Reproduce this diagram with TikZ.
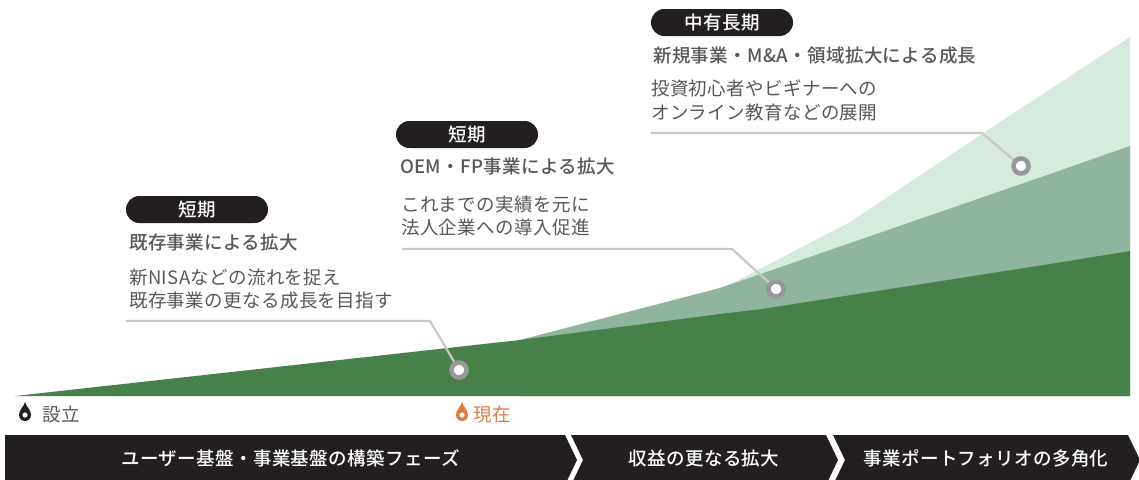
\documentclass[tikz,border=0pt]{standalone}
\usepackage{fontspec}
\newfontfamily\jp[LetterSpace=2]{Noto Sans CJK JP}
\newfontfamily\jpm[LetterSpace=2,UprightFont=* Medium]{Noto Sans CJK JP}
\definecolor{gdark}{HTML}{468148}
\definecolor{gmid}{HTML}{90B59F}
\definecolor{glight}{HTML}{D6EBDD}
\definecolor{leader}{HTML}{C8C8CA}
\definecolor{ring}{HTML}{98989C}
\definecolor{inkdark}{HTML}{231F20}
\definecolor{bodytext}{HTML}{595757}
\definecolor{nowcol}{HTML}{E27C3E}
\tikzset{
  x=1pt,y=-1pt,
  bodyline/.style={anchor=base west,inner sep=0pt,text=bodytext,font=\jp\fontsize{18.5}{20}\selectfont},
  headline/.style={anchor=base west,inner sep=0pt,text=bodytext,font=\jpm\fontsize{18.5}{20}\selectfont},
  pilltext/.style={inner sep=0pt,text=white,font=\jpm\fontsize{18.5}{20}\selectfont},
  bandtext/.style={inner sep=0pt,text=white,font=\jpm\fontsize{18.5}{20}\selectfont},
  leaderline/.style={draw=leader,line width=2.2pt,line join=miter},
  pin/.style={circle,draw=ring,fill=white,line width=4.6pt,minimum size=15pt,inner sep=0pt},
  pill/.style={rounded corners=13.4pt,fill=inkdark,draw=none},
}
\newcommand{\drop}[3]{%
  \fill[#3] (#1,#2) .. controls (#1+0.6,#2+4) and (#1+6,#2+7.5) .. (#1+6,#2+13)
    arc[start angle=0,end angle=180,radius=6] .. controls (#1-6,#2+7.5) and (#1-0.6,#2+4) .. (#1,#2) -- cycle;
  \fill[white] (#1,#2+13) circle[radius=2.6];
}
\begin{document}
\begin{tikzpicture}
\useasboundingbox (0,0) rectangle (1139,479);
\clip (0,0) rectangle (1139,479);
% areas
\fill[glight] (520,340) -- (720,288) -- (733,283) -- (850,222) -- (1003,120) -- (1130,37) -- (1130,396) -- (520,396) -- cycle;
\fill[gmid] (520,340) -- (720,288) -- (1050,174) -- (1130,146) -- (1130,396) -- (520,396) -- cycle;
\fill[gdark] (15,396) -- (520,340) -- (720,314) -- (762,309) -- (1050,264) -- (1130,251) -- (1130,396) -- cycle;
% pins and leaders
\coordinate (l1a) at (126,321); \coordinate (l1b) at (430,321);
\coordinate (l2a) at (402,249); \coordinate (l2b) at (732,249);
\coordinate (l3a) at (651,133); \coordinate (l3b) at (982,133);
\node[pin] (p1) at (459,370) {};
\node[pin] (p2) at (776,289) {};
\node[pin] (p3) at (1021,166) {};
\draw[leaderline] (l1a) -- (l1b) -- (p1);
\draw[leaderline] (l2a) -- (l2b) -- (p2);
\draw[leaderline] (l3a) -- (l3b) -- (p3);
% pills
\fill[pill] (126,196) rectangle (268,223);
\node[pilltext] (t1) at (197,209.5) {短期};
\fill[pill] (396,121) rectangle (538,148);
\node[pilltext] (t2) at (467,134.5) {短期};
\fill[pill] (651,9) rectangle (793,36);
\node[pilltext] (t3) at (722,22.5) {中有長期};
% text
\node[headline] (h1) at (129,249.5) {既存事業による拡大};
\node[bodyline] (b1a) at (129,284.5) {新NISAなどの流れを捉え};
\node[bodyline] (b1b) at (129,307.5) {既存事業の更なる成長を目指す};
\node[headline] (h2) at (400,173.5) {OEM・FP事業による拡大};
\node[bodyline] (b2a) at (401,211.5) {これまでの実績を元に};
\node[bodyline] (b2b) at (401,234.5) {法人企業への導入促進};
\node[headline] (h3) at (653,62.5) {新規事業・M\&A・領域拡大による成長};
\node[bodyline] (b3a) at (651,95.5) {投資初心者やビギナーへの};
\node[bodyline] (b3b) at (651,119.5) {オンライン教育などの展開};
% markers
\drop{25}{402}{inkdark}
\node[bodyline] (est) at (42,421.5) {設立};
\drop{462}{402}{nowcol}
\node[bodyline,text=nowcol] (now) at (473,421.5) {現在};
% bands
\fill[inkdark] (5,435) -- (565,435) -- (577,460) -- (565,485) -- (5,485) -- cycle;
\fill[inkdark] (571,435) -- (826,435) -- (838,460) -- (826,485) -- (571,485) -- (583,460) -- cycle;
\fill[inkdark] (833,435) -- (1128,435) -- (1140,460) -- (1128,485) -- (833,485) -- (845,460) -- cycle;
\node[bandtext] (s1) at (290.5,458.5) {ユーザー基盤・事業基盤の構築フェーズ};
\node[bandtext] (s2) at (704,458.5) {収益の更なる拡大};
\node[bandtext] (s3) at (986,458.5) {事業ポートフォリオの多角化};
\end{tikzpicture}
\end{document}
